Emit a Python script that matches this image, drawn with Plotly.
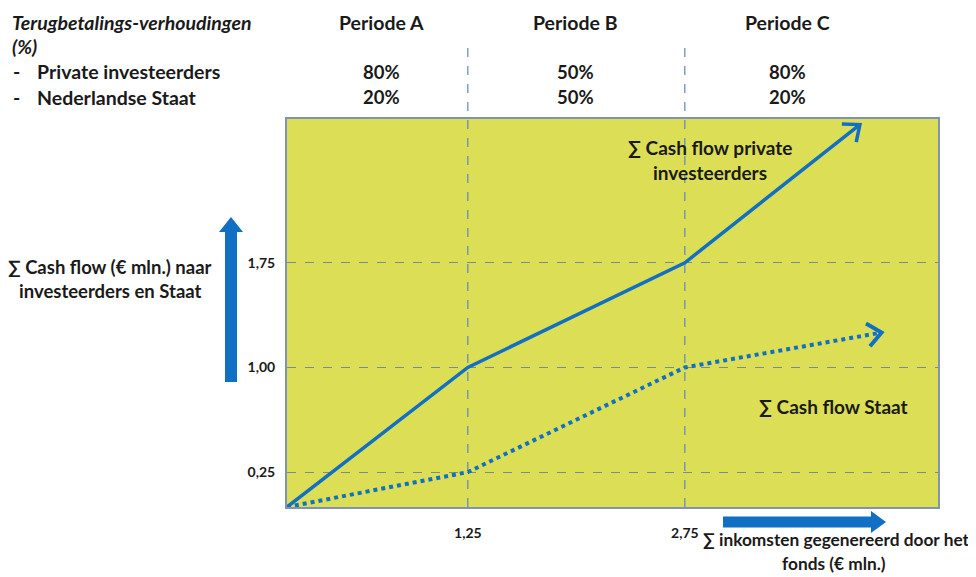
import math
import plotly.graph_objects as go

# ---------------- data ----------------
private_x = [0, 1.25, 2.75, 3.96]
private_y = [0, 1.00, 1.75, 2.74]
staat_x = [0, 1.25, 2.75, 4.11]
staat_y = [0, 0.25, 1.00, 1.25]

x_tickvals = [1.25, 2.75]
x_ticktext = ["1,25", "2,75"]
y_tickvals = [0.25, 1.00, 1.75]
y_ticktext = ["0,25", "1,00", "1,75"]

periods = ["Periode A", "Periode B", "Periode C"]
private_share = ["80%", "50%", "80%"]
staat_share = ["20%", "50%", "20%"]

# ---------------- layout constants ----------------
OFF = 8  # page body margin
W, H = 976 - OFF, 577 - OFF
ML, MR, MT, MB = 287 - OFF, 38, 119 - OFF, 70
PW, PH = W - ML - MR, H - MT - MB
XR = [0, 4.5]
YR = [0, 2.78]
BLUE = "#1170c4"
FONT = "Lato"
TXT = "#1a1a1a"


def P(px, py):
    """screen pixel -> paper coords"""
    fx, fy = px - OFF, py - OFF
    return (fx - ML) / PW, (H - MB - fy) / PH


sx = PW / (XR[1] - XR[0])
sy = PH / (YR[1] - YR[0])


def chevron(x0, y0, x1, y1, L=18, ang=40):
    dx, dy = (x1 - x0) * sx, (y1 - y0) * sy
    n = math.hypot(dx, dy)
    bx, by = -dx / n, -dy / n
    xs, ys = [], []
    for s in (1, -1):
        a = math.radians(ang) * s
        rx = bx * math.cos(a) - by * math.sin(a)
        ry = bx * math.sin(a) + by * math.cos(a)
        xs.append(x1 + rx * L / sx)
        ys.append(y1 + ry * L / sy)
    return [xs[0], x1, xs[1]], [ys[0], y1, ys[1]]


fig = go.Figure()

fig.add_trace(go.Scatter(x=private_x, y=private_y, mode="lines",
                         line=dict(color=BLUE, width=3.5), hoverinfo="skip"))
fig.add_trace(go.Scatter(x=staat_x, y=staat_y, mode="lines",
                         line=dict(color=BLUE, width=4, dash="dot"), hoverinfo="skip"))
cx, cy = chevron(private_x[-2], private_y[-2], private_x[-1], private_y[-1])
fig.add_trace(go.Scatter(x=cx, y=cy, mode="lines", line=dict(color=BLUE, width=3.5),
                         hoverinfo="skip"))
cx, cy = chevron(staat_x[-2], staat_y[-2], staat_x[-1], staat_y[-1])
fig.add_trace(go.Scatter(x=cx, y=cy, mode="lines", line=dict(color=BLUE, width=4),
                         hoverinfo="skip"))

shapes = []
# vertical period separators extending above the plot
top_line = P(0, 43)[1]
for xv in x_tickvals:
    shapes.append(dict(type="line", xref="x", yref="paper", x0=xv, x1=xv, y0=0, y1=top_line,
                       line=dict(color="#5f86bf", width=1.2, dash="dash"), layer="below"))


def arrow_path(pts):
    s = ""
    for i, (px, py) in enumerate(pts):
        X, Y = P(px, py)
        s += ("M" if i == 0 else "L") + f"{X:.5f},{Y:.5f} "
    return s + "Z"


# vertical block arrow
vx = 231
shapes.append(dict(type="path", xref="paper", yref="paper",
                   path=arrow_path([(vx - 6, 382), (vx - 6, 232), (vx - 12, 232), (vx, 217),
                                    (vx + 12, 232), (vx + 6, 232), (vx + 6, 382)]),
                   fillcolor=BLUE, line=dict(width=0)))
# horizontal block arrow
hy = 522
shapes.append(dict(type="path", xref="paper", yref="paper",
                   path=arrow_path([(723, hy - 5.5), (871, hy - 5.5), (871, hy - 11), (886, hy),
                                    (871, hy + 11), (871, hy + 5.5), (723, hy + 5.5)]),
                   fillcolor=BLUE, line=dict(width=0)))

annotations = []


def text(px, py, s, size=19.5, xanchor="center", italic=False):
    X, Y = P(px, py)
    if italic:
        s = f"<i>{s}</i>"
    annotations.append(dict(x=X, y=Y, xref="paper", yref="paper", text=s, showarrow=False,
                            xanchor=xanchor, yanchor="middle",
                            font=dict(family=FONT, size=size, color=TXT, weight="bold")))


text(10, 22, "Terugbetalings-verhoudingen", xanchor="left", italic=True)
text(10, 46, "(%)", xanchor="left", italic=True)
text(11, 72, "-", xanchor="left")
text(35, 72, "Private investeerders", xanchor="left")
text(11, 97, "-", xanchor="left")
text(35, 97, "Nederlandse Staat", xanchor="left")

period_px = [381, 575, 787]
for cxp, p, a, b in zip(period_px, periods, private_share, staat_share):
    text(cxp, 22, p)
    text(cxp, 72, a, size=18.5)
    text(cxp, 97, b, size=18.5)

text(710, 147, "∑ Cash flow private", size=19)
text(710, 172, "investeerders", size=19)
text(833, 406, "∑ Cash flow Staat", size=19)
text(110, 267, "∑ Cash flow (€ mln.) naar", size=18.5)
text(110, 291, "investeerders en Staat", size=18.5)
text(972, 539, "∑ inkomsten gegenereerd door het", size=17.3, xanchor="right")
text(834, 563, "fonds (€ mln.)", size=17.3)

fig.update_layout(
    width=W, height=H, autosize=False,
    margin=dict(l=ML, r=MR, t=MT, b=MB),
    paper_bgcolor="white", plot_bgcolor="#dcdf55",
    showlegend=False,
    shapes=shapes, annotations=annotations,
    font=dict(family=FONT, color=TXT),
)
fig.update_xaxes(range=XR, tickvals=x_tickvals, ticktext=x_ticktext, showgrid=False,
                 zeroline=False, showline=True, mirror=True, linecolor="#7f94b3", linewidth=2,
                 ticks="", ticklabelstandoff=12,
                 tickfont=dict(family=FONT, size=14, color=TXT, weight="bold"))
fig.update_yaxes(range=YR, tickvals=y_tickvals, ticktext=y_ticktext, showgrid=True,
                 gridcolor="#7d8a8f", griddash="dash", gridwidth=1.2,
                 zeroline=False, showline=True, mirror=True, linecolor="#7f94b3", linewidth=2,
                 ticks="", ticklabelstandoff=7,
                 tickfont=dict(family=FONT, size=14, color=TXT, weight="bold"))

fig.write_html("out.html")
